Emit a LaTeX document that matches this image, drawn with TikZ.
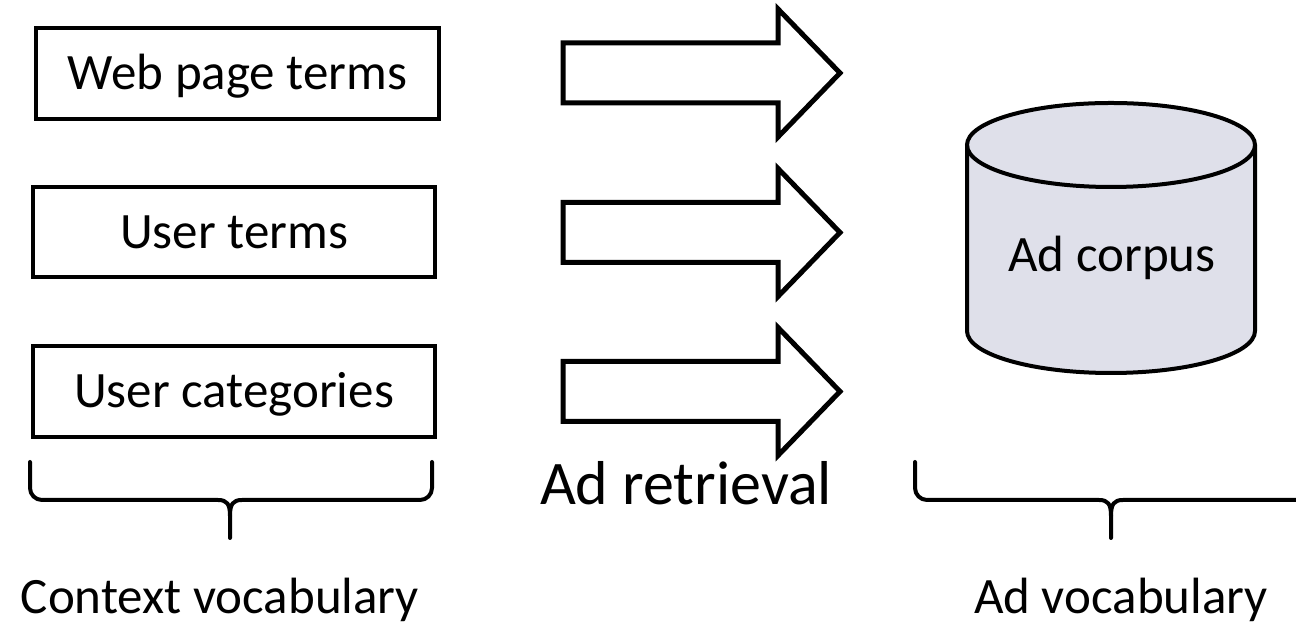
\documentclass[tikz,border=0pt]{standalone}
\usepackage{fontspec}
\setmainfont{Carlito}
\definecolor{cylfill}{HTML}{DFE0EA}
\begin{document}
\begin{tikzpicture}[x=1pt,y=1pt,
  termbox/.style={draw=black,line width=4pt,minimum width=402pt,minimum height=90pt,inner sep=0pt,
    text height=33pt,text depth=0pt,font=\fontsize{51}{60}\selectfont},
  arrowline/.style={draw=black,fill=white,line width=5pt,line join=miter},
  bracestyle/.style={draw=black,line width=4pt,line cap=round,line join=round},
  lbl/.style={anchor=base,inner sep=0pt,font=\fontsize{51}{60}\selectfont},
  blockarrow/.pic={\draw[arrowline] (0,-30) -- (215,-30) -- (215,-64) -- (277,0) -- (215,64) -- (215,30) -- (0,30) -- cycle;}
]
\useasboundingbox (0,0) rectangle (1296,628);
\clip (0,0) rectangle (1296,628);

% term boxes
\node[termbox,minimum width=403pt,minimum height=91pt] (web) at (237.5,554.5) {Web page terms};
\node[termbox] (uterms) at (234,396) {User terms};
\node[termbox,minimum height=91pt] (ucat) at (234,236.5) {User categories};

% block arrows
\pic at (563,555) {blockarrow};
\pic at (563,395.5) {blockarrow};
\pic at (563,236.5) {blockarrow};

\node[lbl,font=\fontsize{62}{72}\selectfont] (retr) at (686,123) {Ad retrieval};

% cylinder
\fill[cylfill] (967,483) -- (967,297) arc[start angle=180,end angle=360,x radius=144,y radius=42]
  -- (1255,483) arc[start angle=0,end angle=180,x radius=144,y radius=42] -- cycle;
\draw[line width=4pt] (967,483) -- (967,297) arc[start angle=180,end angle=360,x radius=144,y radius=42] -- (1255,483);
\draw[line width=4pt] (1111,483) ellipse[x radius=144,y radius=42];
\node[lbl] (corpus) at (1112,356) {Ad corpus};

% left brace
\coordinate (ltip) at (230,90);
\draw[bracestyle] (30,166) -- (30,140) to[out=-90,in=180] (42,128) -- (218,128)
  .. controls (227,128) and (230,124) .. (230,112) -- (ltip);
\draw[bracestyle] (432,166) -- (432,140) to[out=-90,in=0] (420,128) -- (242,128)
  .. controls (233,128) and (230,124) .. (230,112);

% right brace
\coordinate (rtip) at (1111,90);
\draw[bracestyle] (915,166) -- (915,140) to[out=-90,in=180] (927,128) -- (1099,128)
  .. controls (1108,128) and (1111,124) .. (1111,112) -- (rtip);
\draw[bracestyle] (1307,166) -- (1307,140) to[out=-90,in=0] (1295,128) -- (1123,128)
  .. controls (1114,128) and (1111,124) .. (1111,112);

\node[lbl] (ctx) at (220,14) {Context vocabulary};
\node[lbl] (advoc) at (1121,14) {Ad vocabulary};
\end{tikzpicture}
\end{document}
